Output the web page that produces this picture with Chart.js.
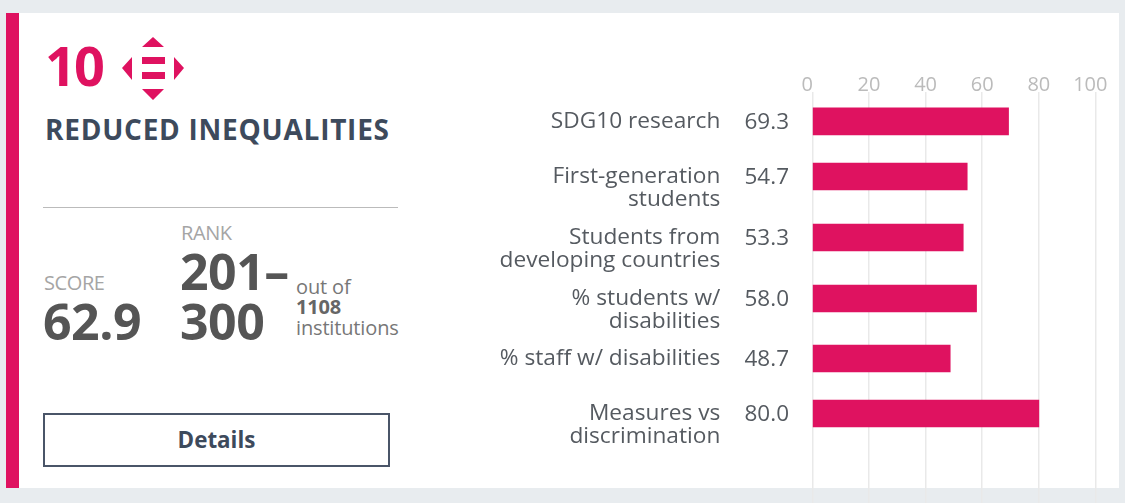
<!DOCTYPE html>
<html>
<head>
<meta charset="utf-8">
<title>Reduced inequalities</title>
<script src="https://cdn.jsdelivr.net/npm/chart.js@4"></script>
<style>
  html, body { margin: 0; padding: 0; width: 1125px; height: 503px; overflow: hidden; background: #e8ecef; }
  body { font-family: "Open Sans", sans-serif; position: relative; }
  #page { position: absolute; left: 0; top: 0; width: 1125px; height: 503px; filter: blur(0.45px); }
  #card { position: absolute; left: 6px; top: 13px; width: 1113px; height: 475px; background: #fff; border-left: 13px solid #df1260; box-sizing: border-box; }
  #chartBox { position: absolute; left: 420px; top: 60px; }
  .t { position: absolute; white-space: nowrap; }
  .big { font-weight: 700; color: #555; font-size: 50px; letter-spacing: -0.5px; line-height: 50px; }
  .small { font-size: 20px; color: #a5a5a5; letter-spacing: -0.4px; line-height: 24px; }
  .note { font-size: 20px; color: #777; line-height: 20px; letter-spacing: -0.15px; }
  #details { position: absolute; left: 43px; top: 413px; width: 347px; height: 54px; box-sizing: border-box; border: 2px solid #4a5568; color: #3d4a5c; font-weight: 700; font-size: 22.4px; line-height: 49px; text-align: center; }
</style>
</head>
<body>
<div id="page">
<div id="card"></div>

<div class="t" style="left:45px;top:30px;font-size:54px;line-height:70px;font-weight:700;color:#df1260;letter-spacing:-2px">10</div>
<svg style="position:absolute;left:120px;top:35px" width="68" height="68" viewBox="120 35 68 68" fill="#df1260">
  <path d="M153 37 L164 47 L142 47 Z M153 100 L142 89 L164 89 Z M122 68 L132 57 L132 80 Z M184 68 L174 57 L174 80 Z"/>
  <rect x="142" y="57" width="23" height="7"/>
  <rect x="142" y="72" width="23" height="7"/>
</svg>
<div class="t" style="left:45px;top:111px;font-size:28px;line-height:36px;font-weight:700;color:#3d4a5c;letter-spacing:0.75px">REDUCED INEQUALITIES</div>
<div style="position:absolute;left:43px;top:207px;width:355px;height:1px;background:#bbb"></div>

<div class="t small" style="left:44px;top:271px">SCORE</div>
<div class="t big" style="left:43px;top:296px">62.9</div>
<div class="t small" style="left:181px;top:221px">RANK</div>
<div class="t big" style="left:180px;top:246px">201–</div>
<div class="t big" style="left:180px;top:296px">300</div>
<div class="t note" style="left:296px;top:277px">out of</div>
<div class="t note" style="left:296px;top:297px;font-weight:700;color:#666">1108</div>
<div class="t note" style="left:296px;top:318px">institutions</div>

<div id="details">Details</div>

<div id="chartBox"><canvas id="chart" width="699" height="443"></canvas></div>
</div>

<script>
const categories = [
  "SDG10 research",
  ["First-generation", "students"],
  ["Students from", "developing countries"],
  ["% students w/", "disabilities"],
  "% staff w/ disabilities",
  ["Measures vs", "discrimination"]
];
const scores = [69.3, 54.7, 53.3, 58.0, 48.7, 80.0];
const tickLabels = ["0", "20", "40", "60", "80", "100"];

// the source rows are not evenly spaced, small shift per row
const rowShift = [0, -3.6, -1.3, 1, 2.3, -1.4];

class RowScale extends Chart.CategoryScale {
  getPixelForValue(value) {
    const px = super.getPixelForValue(value);
    const i = typeof value === "number" ? value : this.parse(value);
    return px + (rowShift[i] || 0);
  }
}
RowScale.id = "rows";
RowScale.defaults = Chart.CategoryScale.defaults;
Chart.register(RowScale);

// score printed between the label and the bar
const scoreLabels = {
  id: "scoreLabels",
  afterDatasetsDraw(chart) {
    const ctx = chart.ctx;
    ctx.save();
    ctx.font = "22.5px 'Open Sans'";
    ctx.fillStyle = "#555a60";
    ctx.textAlign = "right";
    ctx.textBaseline = "middle";
    chart.getDatasetMeta(0).data.forEach((bar, i) => {
      ctx.fillText(scores[i].toFixed(1), 369, bar.y + 1);
    });
    ctx.restore();
  }
};

new Chart(document.getElementById("chart"), {
  type: "bar",
  data: {
    labels: [...categories, ""],
    datasets: [{
      data: scores,
      backgroundColor: "#df1260",
      barThickness: 27
    }]
  },
  plugins: [scoreLabels],
  options: {
    indexAxis: "y",
    responsive: false,
    maintainAspectRatio: false,
    animation: false,
    layout: { padding: { right: 23.5 } },
    plugins: { legend: { display: false }, tooltip: { enabled: false } },
    scales: {
      x: {
        position: "top",
        min: 0,
        max: 100,
        border: { display: false },
        grid: { color: "#e9e9e9", lineWidth: 1.5, drawTicks: false },
        ticks: {
          stepSize: 20,
          maxRotation: 0,
          padding: -5,
          color: "#bbb",
          font: { family: "Open Sans", size: 20 },
          callback: (v, i) => (i === 0 || i === 5) ? tickLabels[i] + "  " : tickLabels[i]
        },
        afterFit: s => { s.height = 32; s.paddingLeft = 0; s.paddingRight = 0; }
      },
      y: {
        type: "rows",
        border: { display: false },
        grid: { display: false },
        ticks: {
          autoSkip: false,
          padding: 84,
          color: "#555a60",
          font: { family: "Open Sans", size: 22.7, lineHeight: 1.01 },
          // two line labels hang from the bar centre
          callback(v) {
            const l = this.getLabelForValue(v);
            return Array.isArray(l) ? ["", ...l] : l;
          }
        },
        afterFit: s => { s.width = 392.3; s.paddingTop = 0; s.paddingBottom = 0; }
      }
    }
  }
});
</script>
</body>
</html>
